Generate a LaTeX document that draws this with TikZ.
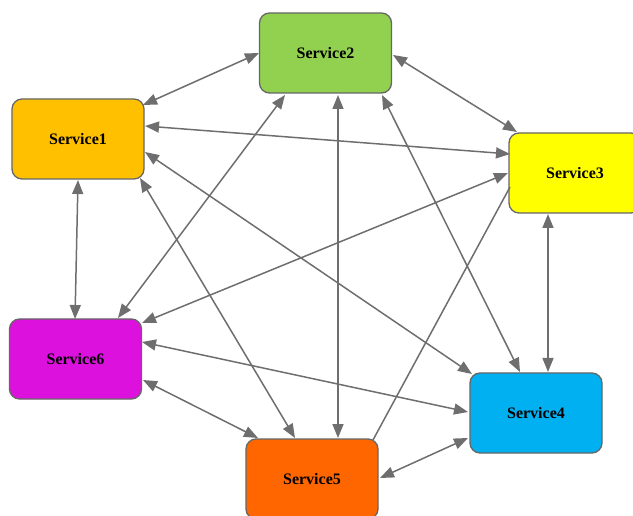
\documentclass[tikz,border=0pt]{standalone}
\usepackage{fontspec}
\setmainfont{Liberation Serif}
\usetikzlibrary{arrows.meta}
\definecolor{cS1}{HTML}{FFC000}
\definecolor{cS2}{HTML}{92D050}
\definecolor{cS3}{HTML}{FFFF00}
\definecolor{cS4}{HTML}{00B0F0}
\definecolor{cS5}{HTML}{FF6600}
\definecolor{cS6}{RGB}{221,17,221}
\definecolor{edgegray}{HTML}{666666}
\definecolor{linkgray}{HTML}{6E6E6E}
\tikzset{
  svc/.style={draw=edgegray, line width=1.3pt, rounded corners=10pt,
    minimum width=132pt, minimum height=80pt, inner sep=0pt,
    font=\fontsize{16}{19}\selectfont\bfseries},
  link/.style={draw=linkgray, line width=1.5pt,
    {Triangle[length=14pt,width=11pt]}-{Triangle[length=14pt,width=11pt]}},
  plainlink/.style={draw=linkgray, line width=1.5pt},
}
\begin{document}
\begin{tikzpicture}[x=1pt,y=-1pt]
\useasboundingbox (0,0) rectangle (633,516);
\node[svc, fill=cS2] (S2) at (325.5,53) {Service2};
\node[svc, fill=cS1] (S1) at (78,139) {Service1};
\node[svc, fill=cS3] (S3) at (575,173) {Service3};
\node[svc, fill=cS6] (S6) at (75.5,359) {Service6};
\node[svc, fill=cS4] (S4) at (536,413) {Service4};
\node[svc, fill=cS5] (S5) at (312,479) {Service5};
% connectors
\draw[link] ([shift={(65,-34)}]S1.center) -- ([shift={(-66.5,0)}]S2.center);
\draw[link] ([shift={(67.5,2)}]S2.center) -- ([shift={(-58,-41)}]S3.center);
\draw[link] ([shift={(67,-13)}]S1.center) -- ([shift={(-65,-19)}]S3.center);
\draw[link] ([shift={(0,41)}]S1.center) -- ([shift={(-0.5,-40)}]S6.center);
\draw[link] ([shift={(67,13)}]S1.center) -- ([shift={(-64,-39)}]S4.center);
\draw[link] ([shift={(62,39)}]S1.center) -- ([shift={(-17,-41)}]S5.center);
\draw[link] ([shift={(-40.5,42)}]S2.center) -- ([shift={(42.5,-41)}]S6.center);
\draw[link] ([shift={(12.5,42)}]S2.center) -- ([shift={(26,-41)}]S5.center);
\draw[link] ([shift={(56.5,42)}]S2.center) -- ([shift={(-16,-41)}]S4.center);
\draw[link] ([shift={(-67,0)}]S3.center) -- ([shift={(66.5,-36)}]S6.center);
\draw[link] ([shift={(-27,41)}]S3.center) -- ([shift={(12,-41)}]S4.center);
\draw[plainlink] ([shift={(-65,14)}]S3.center) -- ([shift={(61,-39)}]S5.center);
\draw[link] ([shift={(66.5,-17)}]S6.center) -- ([shift={(-68,-1)}]S4.center);
\draw[link] ([shift={(67.5,21)}]S6.center) -- ([shift={(-54,-41)}]S5.center);
\draw[link] ([shift={(68,-1)}]S5.center) -- ([shift={(-68,25)}]S4.center);
\end{tikzpicture}
\end{document}
